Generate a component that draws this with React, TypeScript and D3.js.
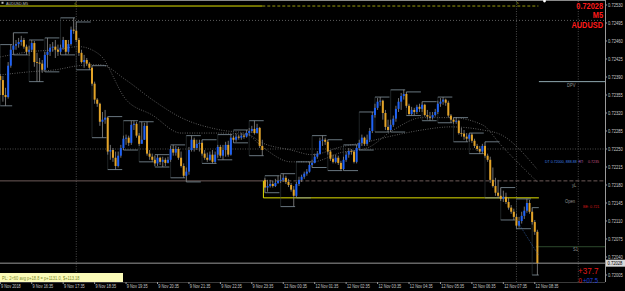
import React from "react";
import * as d3 from "d3";

// ---- M5 bars, prices in points (1 point = 0.00001) ----
const opens = [
  72392, 72384, 72355, 72351, 72412, 72443, 72451, 72454, 72458, 72462, 72449,
  72439, 72443, 72456, 72419, 72418, 72416, 72404, 72433, 72439, 72447,
  72449, 72443, 72439, 72447, 72462, 72439, 72454, 72482, 72480, 72462,
  72437, 72419, 72423, 72416, 72408, 72377, 72346, 72338, 72303, 72307,
  72311, 72245, 72248, 72233, 72217, 72237, 72252, 72270, 72272, 72262,
  72297, 72299, 72276, 72260, 72268, 72295, 72241, 72235, 72229, 72222,
  72233, 72225, 72229, 72223, 72229, 72250, 72243, 72250, 72233, 72217,
  72198, 72206, 72248, 72268, 72252, 72260, 72262, 72241, 72233, 72229,
  72239, 72225, 72239, 72254, 72237, 72248, 72258, 72239, 72272, 72268,
  72274, 72272, 72276, 72274, 72281, 72285, 72289, 72281, 72291, 72256,
  72190,
  72175, 72178, 72182, 72178, 72184, 72188, 72190, 72194, 72186, 72180,
  72171, 72159, 72182, 72190, 72196, 72202, 72206, 72219, 72223, 72235,
  72241, 72266, 72268, 72264, 72245, 72231, 72225, 72233, 72223, 72211,
  72229, 72239, 72246, 72245, 72225, 72252, 72262, 72272, 72260, 72268,
  72285, 72316, 72330, 72342, 72344, 72320, 72293, 72287, 72297, 72309,
  72328, 72342, 72353, 72357, 72334, 72318, 72326, 72322, 72332, 72328,
  72336, 72316, 72313, 72311, 72316, 72322, 72338, 72342, 72346, 72340,
  72315, 72307, 72303, 72305, 72281, 72280, 72274, 72270, 72278, 72266,
  72256, 72250, 72245, 72256, 72237, 72229, 72190, 72178, 72165, 72159,
  72153, 72157, 72147, 72136, 72128, 72118, 72101, 72110, 72120, 72130,
  72145, 72128, 72108, 72089,
];
const highs = [
  72396,
  72392, 72369, 72419, 72453, 72476, 72462, 72466, 72470, 72466, 72453,
  72451, 72462, 72460, 72437, 72427, 72423, 72439, 72466, 72454, 72458,
  72462, 72453, 72453, 72468, 72462, 72462, 72488, 72505, 72497, 72466,
  72443, 72433, 72427, 72419, 72412, 72381, 72349, 72340, 72322, 72326,
  72313, 72258, 72252, 72245, 72245, 72258, 72276, 72278, 72276, 72305,
  72305, 72303, 72281, 72303, 72301, 72303, 72248, 72241, 72237, 72239,
  72235, 72235, 72233, 72235, 72256, 72258, 72256, 72254, 72245, 72222,
  72214, 72254, 72276, 72272, 72268, 72268, 72268, 72248, 72243, 72245,
  72248, 72245, 72258, 72258, 72258, 72264, 72266, 72278, 72276, 72280,
  72278, 72281, 72280, 72287, 72291, 72295, 72305, 72299, 72293, 72268,
  72194, 72190, 72190, 72188, 72192, 72198, 72200, 72202, 72198, 72192,
  72184, 72178, 72186, 72196, 72200, 72206, 72211, 72225, 72229, 72241,
  72246, 72272, 72276, 72272, 72268, 72248, 72239, 72239, 72237, 72227,
  72235, 72245, 72252, 72250, 72248, 72258, 72268, 72278, 72274, 72278,
  72291, 72322, 72338, 72349, 72351, 72346, 72326, 72307, 72307, 72315,
  72334, 72349, 72359, 72365, 72361, 72338, 72332, 72330, 72336, 72338,
  72342, 72338, 72326, 72322, 72322, 72328, 72344, 72349, 72351, 72348,
  72344, 72318, 72311, 72311, 72307, 72291, 72287, 72281, 72281, 72281,
  72270, 72260, 72256, 72260, 72264, 72241, 72235, 72214, 72194, 72190,
  72175, 72169, 72165, 72155, 72141, 72134, 72124, 72118, 72128, 72138,
  72153, 72151, 72136, 72112, 72093,
];
const lows = [
  72355,
  72342, 72334, 72348, 72408, 72433, 72443, 72447, 72451, 72445, 72433,
  72431, 72439, 72410, 72381, 72381, 72398, 72400, 72408, 72431, 72439,
  72427, 72431, 72433, 72443, 72433, 72435, 72451, 72474, 72458, 72431,
  72416, 72408, 72412, 72404, 72373, 72338, 72332, 72295, 72272, 72299,
  72239, 72229, 72225, 72210, 72214, 72233, 72248, 72258, 72256, 72258,
  72287, 72272, 72256, 72262, 72268, 72237, 72229, 72225, 72217, 72217,
  72219, 72215, 72217, 72222, 72225, 72237, 72237, 72229, 72214, 72194,
  72186, 72200, 72245, 72245, 72248, 72245, 72237, 72229, 72225, 72227,
  72222, 72222, 72233, 72233, 72229, 72235, 72235, 72237, 72262, 72264,
  72268, 72268, 72270, 72272, 72276, 72281, 72278, 72280, 72252, 72237,
  72165, 72167, 72175, 72175, 72176, 72182, 72184, 72186, 72182, 72176,
  72167, 72138, 72155, 72178, 72186, 72192, 72198, 72204, 72214, 72222,
  72231, 72239, 72256, 72258, 72239, 72227, 72222, 72222, 72219, 72208,
  72208, 72225, 72233, 72239, 72222, 72222, 72248, 72256, 72256, 72256,
  72264, 72281, 72311, 72326, 72334, 72307, 72287, 72283, 72283, 72293,
  72303, 72322, 72326, 72346, 72330, 72315, 72315, 72316, 72318, 72322,
  72322, 72313, 72307, 72305, 72307, 72313, 72318, 72332, 72336, 72334,
  72311, 72301, 72299, 72299, 72278, 72274, 72268, 72264, 72264, 72262,
  72252, 72246, 72241, 72241, 72233, 72225, 72184, 72175, 72159, 72155,
  72149, 72147, 72143, 72132, 72124, 72112, 72095, 72097, 72105, 72114,
  72126, 72124, 72103, 72083, 72005,
];
const closes = [
  72384,
  72355, 72351, 72412, 72443, 72451, 72454, 72458, 72462, 72449, 72439,
  72443, 72456, 72419, 72418, 72416, 72404, 72433, 72439, 72447, 72449,
  72443, 72439, 72447, 72462, 72439, 72454, 72482, 72480, 72462, 72437,
  72419, 72423, 72416, 72408, 72377, 72346, 72338, 72303, 72307, 72311,
  72245, 72248, 72233, 72217, 72237, 72252, 72270, 72272, 72262, 72297,
  72299, 72276, 72260, 72268, 72295, 72241, 72235, 72229, 72222, 72233,
  72225, 72229, 72223, 72229, 72250, 72243, 72250, 72233, 72217, 72198,
  72206, 72248, 72268, 72252, 72260, 72262, 72241, 72233, 72229, 72239,
  72225, 72239, 72254, 72237, 72248, 72258, 72239, 72272, 72268, 72274,
  72272, 72276, 72274, 72281, 72285, 72289, 72281, 72291, 72256, 72248,
  72175, 72178, 72182, 72178, 72184, 72188, 72190, 72194, 72186, 72180,
  72171, 72159, 72182, 72190, 72196, 72202, 72206, 72219, 72223, 72235,
  72241, 72266, 72268, 72264, 72245, 72231, 72225, 72233, 72223, 72211,
  72229, 72239, 72246, 72245, 72225, 72252, 72262, 72272, 72260, 72268,
  72285, 72316, 72330, 72342, 72344, 72320, 72293, 72287, 72297, 72309,
  72328, 72342, 72353, 72357, 72334, 72318, 72326, 72322, 72332, 72328,
  72336, 72316, 72313, 72311, 72316, 72322, 72338, 72342, 72346, 72340,
  72315, 72307, 72303, 72305, 72281, 72280, 72274, 72270, 72278, 72266,
  72256, 72250, 72245, 72256, 72237, 72229, 72190, 72178, 72165, 72159,
  72153, 72157, 72147, 72136, 72128, 72118, 72101, 72110, 72120, 72130,
  72145, 72128, 72108, 72089, 72028,
];

// session / time info
const firstBarMinute = 15 * 60 + 35; // 9 Nov 15:35
const mondayFirstBar = 101; // 12 Nov 00:00

// moving averages read at bar indices
const maBars = [0, 11, 21, 30, 38, 48, 58, 69, 84, 94, 100, 111, 119, 130, 140, 150, 161, 172, 184, 191, 205];
const maFast = [72429, 72439, 72443, 72449, 72433, 72346, 72316, 72281, 72281, 72278, 72254, 72225, 72225, 72243, 72252, 72287, 72311, 72311, 72297, 72258, 72186];
const maSlow = [72394, 72400, 72404, 72412, 72414, 72384, 72346, 72311, 72287, 72280, 72262, 72248, 72239, 72254, 72264, 72276, 72287, 72293, 72287, 72278, 72210];

// axis ticks
const priceTicks = [72530, 72495, 72460, 72425, 72390, 72355, 72320, 72285, 72250, 72215, 72180, 72145, 72110, 72075, 72040, 72005];
const timeLabels = ["9 Nov 2018", "9 Nov 16:35", "9 Nov 17:35", "9 Nov 18:35", "9 Nov 19:35", "9 Nov 20:35", "9 Nov 21:35", "9 Nov 22:35", "9 Nov 23:35", "12 Nov 00:35", "12 Nov 01:35", "12 Nov 02:35", "12 Nov 03:35", "12 Nov 04:35", "12 Nov 05:35", "12 Nov 06:35", "12 Nov 07:35", "12 Nov 08:35"];
const timeLabelBars = [0, 12, 24, 36, 48, 60, 72, 84, 96, 108, 120, 132, 144, 156, 168, 180, 192, 204];

// levels
const bid = 72028;
const topLevel = 72528;
const prevHigh = 72500;
const pivotLevel = 72250;
const prevLow = 72188;
const boxLow = 72155;
const dpvLevel = 72381;
const s1Level = 72060;
const vLineBars = [29, 197, 220.6];

const FONT = "'Liberation Sans', Arial, sans-serif";
const PR = 605;
const PB = 282;

const x = d3.scaleLinear().domain([0, 1]).range([0.3, 2.92]);
const y = d3.scaleLinear().domain([72005, 72530]).range([275, 5]);

type TP = { x: number; y: number; sx?: number; size: number; fill: string; anchor?: string; weight?: string | number; children: React.ReactNode };
const T = ({ x, y, sx = 1, size, fill, anchor = "start", weight = "normal", children }: TP) => (
  <text transform={`translate(${x},${y}) scale(${sx},1)`} fontSize={size} fill={fill} textAnchor={anchor as any} fontWeight={weight} fontFamily={FONT}>
    {children}
  </text>
);

export default function App() {
  const n = closes.length;
  const bars = d3.range(n).map((i) => ({ i, o: opens[i], h: highs[i], l: lows[i], c: closes[i] }));
  const key = (i: number) => {
    const day = i < mondayFirstBar ? 9 : 12;
    const min = i < mondayFirstBar ? firstBarMinute + 5 * i : 5 * (i - mondayFirstBar);
    return `${day}-${Math.floor(min / 30)}`;
  };
  const groups = d3.groups(bars, (b) => key(b.i)).map(([, bs]) => ({
    f: bs[0].i,
    l: bs[bs.length - 1].i,
    hi: d3.max(bs, (b) => b.h) as number,
    lo: d3.min(bs, (b) => b.l) as number,
  }));
  const maLine = d3
    .line<number>()
    .x((_, k) => x(maBars[k]))
    .y((v) => y(v))
    .curve(d3.curveMonotoneX);

  const last = n - 1;
  return (
    <svg width={625} height={291} style={{ position: "fixed", left: 0, top: 0, background: "#000" }}>
      <defs>
        <clipPath id="plot">
          <rect x={0} y={1} width={PR} height={PB - 1} />
        </clipPath>
      </defs>
      <rect width={625} height={291} fill="#000" />
      <line x1={0} x2={606} y1={0.5} y2={0.5} stroke="#8a8a8a" />
      <g clipPath="url(#plot)">
        {/* vertical dotted lines */}
        {vLineBars.map((b, k) => (
          <line key={k} x1={x(b)} x2={x(b)} y1={1} y2={PB} stroke="#4a4a4a" strokeDasharray="1,1.5" />
        ))}
        {/* horizontal levels */}
        <line x1={0} x2={PR} y1={y(prevHigh)} y2={y(prevHigh)} stroke="#5a5a5a" strokeDasharray="1,2" />
        <line x1={0} x2={PR} y1={y(pivotLevel)} y2={y(pivotLevel)} stroke="#4a4a4a" strokeDasharray="1,1.5" />
        <line x1={0} x2={x(mondayFirstBar) - 1.5} y1={y(prevLow)} y2={y(prevLow)} stroke="#6e5a58" />
        <line x1={x(mondayFirstBar) - 1.5} x2={PR} y1={y(prevLow)} y2={y(prevLow)} stroke="#6e5a58" strokeDasharray="4,2" />
        <line x1={x(last) + 1.5} x2={PR} y1={y(dpvLevel)} y2={y(dpvLevel)} stroke="#8fa9b0" />
        <line x1={x(last) - 1.5} x2={PR} y1={y(s1Level)} y2={y(s1Level)} stroke="#2c4a2c" />
        <line x1={0} x2={PR} y1={y(bid)} y2={y(bid)} stroke="#9a9a9a" />
        {/* top yellow line */}
        <line x1={0} x2={x(100)} y1={y(topLevel)} y2={y(topLevel)} stroke="#e0e000" />
        <line x1={x(100)} x2={x(last) + 1} y1={y(topLevel)} y2={y(topLevel)} stroke="#9a9a10" strokeDasharray="3,2" />
        {/* monday box */}
        <path
          d={`M${x(mondayFirstBar) - 1.5},${y(prevLow)}V${y(boxLow)}H${x(last) + 1.5}`}
          fill="none"
          stroke="#e0e000"
        />
        {/* moving averages */}
        <path d={maLine(maSlow) || ""} fill="none" stroke="#8a8a8a" strokeWidth={0.8} strokeDasharray="0.8,1.6" />
        <path d={maLine(maFast) || ""} fill="none" stroke="#8a8a8a" strokeWidth={0.8} strokeDasharray="0.8,1.6" />
        {/* M30 brackets */}
        {groups.map((g, k) => (
          <g key={k} fill="none">
            <path d={`M${x(g.f)},${y(g.hi)}V${y(g.lo)}`} stroke="#3c464b" strokeWidth={0.5} />
            <path
              d={`M${x(g.f)},${y(g.hi)}H${x(g.l) + 1.4}M${x(g.f)},${y(g.lo)}H${x(g.l) + 1.4}`}
              stroke="#8394a0"
              strokeWidth={0.8}
            />
          </g>
        ))}
        {/* candles */}
        {bars.map((b) => {
          const up = b.c > b.o;
          const eq = b.c === b.o;
          const col = eq ? "#909090" : up ? "#1f62f5" : "#e3a327";
          const top = y(Math.max(b.o, b.c));
          const h = Math.max(0.8, Math.abs(y(b.o) - y(b.c)));
          return (
            <g key={b.i}>
              <line x1={x(b.i)} x2={x(b.i)} y1={y(b.h)} y2={y(b.l)} stroke="#8c8c8c" strokeWidth={0.8} />
              <rect x={x(b.i) - 1} y={top} width={2} height={h} fill={col} />
            </g>
          );
        })}
        {/* short trend line */}
        <line x1={x(197)} x2={x(last) + 1} y1={y(72112)} y2={y(72044)} stroke="#3a6fc0" strokeWidth={0.6} strokeDasharray="1,1" />
      </g>
      {/* frame */}
      <line x1={PR + 0.5} x2={PR + 0.5} y1={0} y2={PB} stroke="#9a9a9a" />
      <line x1={0} x2={PR} y1={PB + 0.5} y2={PB + 0.5} stroke="#3a3a3a" />
      {/* price axis */}
      {priceTicks.map((p) => (
        <g key={p}>
          <line x1={PR} x2={PR + 2} y1={y(p)} y2={y(p)} stroke="#9a9a9a" />
          <T x={608} y={y(p) + 1.7} size={4.7} sx={0.88} fill="#c8c8c8">
            {(p / 1e5).toFixed(5)}
          </T>
        </g>
      ))}
      <rect x={606} y={y(bid) - 3.5} width={19} height={7} fill="#d8d8d8" />
      <T x={607.5} y={y(bid) + 1.7} size={4.7} sx={0.88} fill="#000">
        {(bid / 1e5).toFixed(5)}
      </T>
      {/* time axis */}
      {timeLabels.map((t, k) => (
        <g key={t}>
          <line x1={x(timeLabelBars[k])} x2={x(timeLabelBars[k])} y1={PB} y2={PB + 2} stroke="#9a9a9a" />
          <T x={x(timeLabelBars[k]) + 0.8} y={287.5} size={4.7} sx={0.82} fill="#c8c8c8">
            {t}
          </T>
        </g>
      ))}
      {/* top-left title */}
      <rect x={1.5} y={1.8} width={2} height={2} fill="#bbb" />
      <T x={6} y={5.4} size={4.4} sx={0.85} fill="#c0c0c0">AUDUSD,M5</T>
      <T x={x(29) - 2} y={5} size={4.5} fill="#b0b020">≤</T>
      <T x={x(197) - 0.5} y={5} size={4.5} fill="#b0b020">&gt;</T>
      <circle cx={544.5} cy={1} r={1.4} fill="#fff" />
      {/* red top-right block */}
      <T x={603} y={9.2} size={8.2} sx={0.9} fill="#ff1a1a" anchor="end" weight="bold">0.72028</T>
      <T x={603} y={18.4} size={8.2} sx={0.9} fill="#ff1a1a" anchor="end" weight="bold">M5</T>
      <T x={603} y={27.6} size={8.2} sx={0.9} fill="#ff1a1a" anchor="end" weight="bold">AUDUSD</T>
      {/* right-side labels */}
      <T x={567} y={87} size={4.6} sx={0.9} fill="#909090">DPV</T>
      <T x={545} y={162.5} size={4.4} sx={0.82} fill="#3d7fe0">DT 0.72000, 888.88</T>
      <T x={578.5} y={162.5} size={4.4} sx={0.82} fill="#a060c0">RT:</T>
      <T x={588} y={162.5} size={4.4} sx={0.82} fill="#c05080">0.7235</T>
      <T x={572} y={186.5} size={4.6} sx={0.9} fill="#909090">yL</T>
      <T x={565} y={203} size={4.6} sx={0.9} fill="#909090">Open</T>
      <T x={583} y={208} size={4.4} sx={0.85} fill="#d01818">BE: 0.721</T>
      <T x={573} y={251} size={4.6} sx={0.9} fill="#909090">S1</T>
      <T x={578} y={273.5} size={9} sx={0.9} fill="#e01818">+37.7</T>
      <T x={578.5} y={283} size={7} sx={0.85} fill="#e01818">0</T>
      <T x={583} y={283} size={7} sx={0.85} fill="#2040e0">+07.5</T>
      {/* bottom-left status box */}
      <rect x={0} y={273} width={123} height={9} fill="#fbfbb8" />
      <T x={2} y={279.5} size={4.5} sx={0.9} fill="#7d8a2a">PL: 2&lt;60 avg p+18.8 = p+1131.0, $+113.18</T>
    </svg>
  );
}
